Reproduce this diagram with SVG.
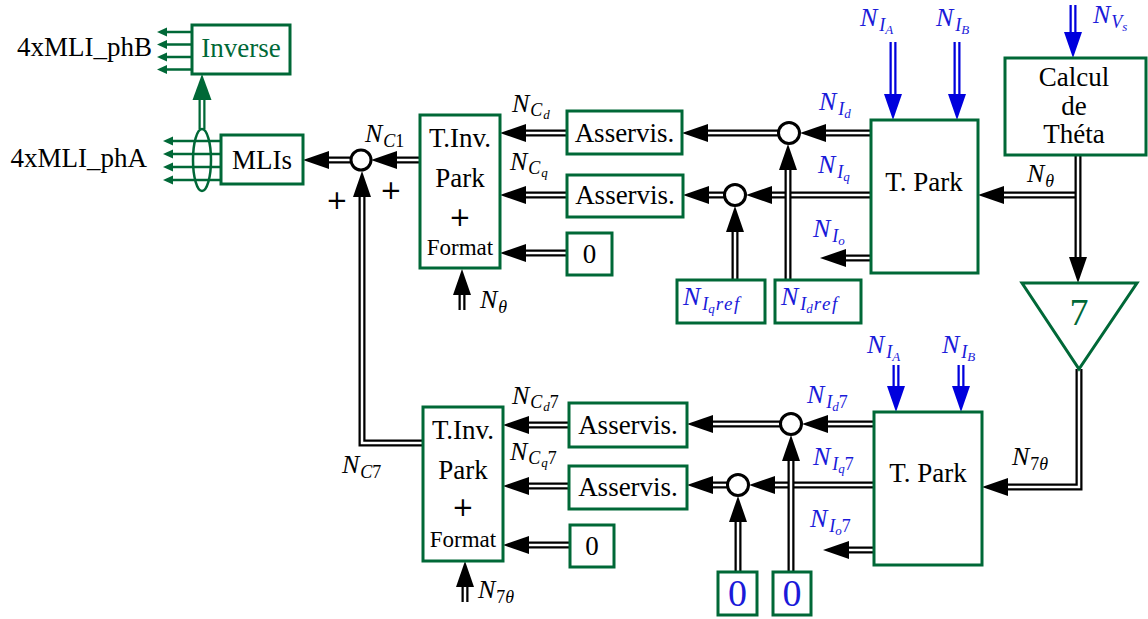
<svg xmlns="http://www.w3.org/2000/svg" width="1148" height="619" viewBox="0 0 1148 619">
<style>
.bx{fill:#fff;stroke:#006837;stroke-width:3}
.t{font-family:"Liberation Serif",serif;font-size:27px;text-anchor:middle;fill:#000}
.f{font-size:23px}
.pl{font-family:"DejaVu Sans",sans-serif;font-size:26px;text-anchor:middle;fill:#000}
.m{font-family:"Liberation Serif",serif;font-style:italic;font-size:26px;fill:#000}
.s1{font-size:18px}
.s2{font-size:13px}
.rf{font-size:19px;letter-spacing:1.5px}
.up{font-style:normal}
.bl{fill:#1a1ad9}
.gr{fill:#006837}
.o{fill:none;stroke:#000;stroke-width:7}
.i{fill:none;stroke:#fff;stroke-width:2.5}
.ob{fill:none;stroke:#0000dd;stroke-width:7}
.og{fill:none;stroke:#006837;stroke-width:7}
.sg{fill:none;stroke:#006837;stroke-width:2.5}
.sum{fill:#fff;stroke:#000;stroke-width:3}
</style>
<defs>
<marker id="ak" markerUnits="userSpaceOnUse" markerWidth="28" markerHeight="20" refX="0" refY="9" orient="auto" overflow="visible"><path d="M0,0 L26,9 L0,18 Z" fill="#000"/></marker>
<marker id="ab" markerUnits="userSpaceOnUse" markerWidth="28" markerHeight="20" refX="0" refY="9" orient="auto" overflow="visible"><path d="M0,0 L26,9 L0,18 Z" fill="#0000dd"/></marker>
<marker id="ag" markerUnits="userSpaceOnUse" markerWidth="28" markerHeight="20" refX="0" refY="9.5" orient="auto" overflow="visible"><path d="M0,0 L26,9.5 L0,19 Z" fill="#006837"/></marker>
<marker id="as" markerUnits="userSpaceOnUse" markerWidth="12" markerHeight="10" refX="0" refY="4.5" orient="auto" overflow="visible"><path d="M0,0 L10,4.5 L0,9 Z" fill="#006837"/></marker>
</defs>

<g id="connectors">
<!-- top section -->
<g><path class="o" d="M350,160 H329"/><path class="i" d="M350,160 H329" marker-end="url(#ak)"/></g>
<g><path class="o" d="M420,160 H397"/><path class="i" d="M420,160 H397" marker-end="url(#ak)"/></g>
<g><path class="o" d="M423,443 H362 V197"/><path class="i" d="M423,443 H362 V197" marker-end="url(#ak)"/></g>
<g><path class="o" d="M567,133 H526"/><path class="i" d="M567,133 H526" marker-end="url(#ak)"/></g>
<g><path class="o" d="M567,195 H526"/><path class="i" d="M567,195 H526" marker-end="url(#ak)"/></g>
<g><path class="o" d="M567,253 H526"/><path class="i" d="M567,253 H526" marker-end="url(#ak)"/></g>
<g><path class="o" d="M778,133 H708"/><path class="i" d="M778,133 H708" marker-end="url(#ak)"/></g>
<g><path class="o" d="M871,133 H826"/><path class="i" d="M871,133 H826" marker-end="url(#ak)"/></g>
<g><path class="o" d="M724,195 H709"/><path class="i" d="M724,195 H709" marker-end="url(#ak)"/></g>
<g><path class="o" d="M871,195 H772"/><path class="i" d="M871,195 H772" marker-end="url(#ak)"/></g>
<g><path class="o" d="M788,280 V170"/><path class="i" d="M788,280 V170" marker-end="url(#ak)"/></g>
<g><path class="o" d="M735,280 V232"/><path class="i" d="M735,280 V232" marker-end="url(#ak)"/></g>
<g><path class="o" d="M871,258 H846"/><path class="i" d="M871,258 H846" marker-end="url(#ak)"/></g>
<g><path class="ob" d="M893,42 V94"/><path class="i" d="M893,42 V94" marker-end="url(#ab)"/></g>
<g><path class="ob" d="M957,42 V94"/><path class="i" d="M957,42 V94" marker-end="url(#ab)"/></g>
<g><path class="ob" d="M1073,5 V32"/><path class="i" d="M1073,5 V32" marker-end="url(#ab)"/></g>
<g><path class="o" d="M1078,195 H1004"/><path class="i" d="M1078,195 H1004" marker-end="url(#ak)"/></g>
<g><path class="o" d="M1078,155 V257"/><path class="i" d="M1078,155 V257" marker-end="url(#ak)"/></g>
<g><path class="o" d="M462,310 V295"/><path class="i" d="M462,310 V295" marker-end="url(#ak)"/></g>
<!-- bottom section -->
<g><path class="o" d="M569,425 H529"/><path class="i" d="M569,425 H529" marker-end="url(#ak)"/></g>
<g><path class="o" d="M569,486 H529"/><path class="i" d="M569,486 H529" marker-end="url(#ak)"/></g>
<g><path class="o" d="M570,545 H529"/><path class="i" d="M570,545 H529" marker-end="url(#ak)"/></g>
<g><path class="o" d="M780,424 H713"/><path class="i" d="M780,424 H713" marker-end="url(#ak)"/></g>
<g><path class="o" d="M874,424 H828"/><path class="i" d="M874,424 H828" marker-end="url(#ak)"/></g>
<g><path class="o" d="M727,485 H713"/><path class="i" d="M727,485 H713" marker-end="url(#ak)"/></g>
<g><path class="o" d="M874,485 H775"/><path class="i" d="M874,485 H775" marker-end="url(#ak)"/></g>
<g><path class="o" d="M791,572 V461"/><path class="i" d="M791,572 V461" marker-end="url(#ak)"/></g>
<g><path class="o" d="M738,572 V522"/><path class="i" d="M738,572 V522" marker-end="url(#ak)"/></g>
<g><path class="o" d="M874,550 H849"/><path class="i" d="M874,550 H849" marker-end="url(#ak)"/></g>
<g><path class="ob" d="M896,365 V386"/><path class="i" d="M896,365 V386" marker-end="url(#ab)"/></g>
<g><path class="ob" d="M961,365 V386"/><path class="i" d="M961,365 V386" marker-end="url(#ab)"/></g>
<g><path class="o" d="M1079,369 V487 H1008"/><path class="i" d="M1079,369 V487 H1008" marker-end="url(#ak)"/></g>
<g><path class="o" d="M465,602 V587"/><path class="i" d="M465,602 V587" marker-end="url(#ak)"/></g>
<!-- green outputs -->
<g><path class="og" d="M202,129 V100"/><path class="i" d="M202,129 V100" marker-end="url(#ag)"/></g>
<path class="sg" d="M221,141 H173" marker-end="url(#as)"/>
<path class="sg" d="M221,154 H173" marker-end="url(#as)"/>
<path class="sg" d="M221,167 H173" marker-end="url(#as)"/>
<path class="sg" d="M221,180 H173" marker-end="url(#as)"/>
<path class="sg" d="M192,32 H167" marker-end="url(#as)"/>
<path class="sg" d="M192,44.5 H167" marker-end="url(#as)"/>
<path class="sg" d="M192,57 H167" marker-end="url(#as)"/>
<path class="sg" d="M192,69.5 H167" marker-end="url(#as)"/>
<ellipse cx="202" cy="160" rx="9" ry="31" fill="none" stroke="#006837" stroke-width="2.5"/>
</g>

<g id="inverse"><rect class="bx" x="192" y="25" width="98" height="49"/><text class="t gr" x="241" y="57">Inverse</text></g>
<g id="mlis"><rect class="bx" x="221" y="135" width="82" height="49"/><text class="t" x="262" y="169">MLIs</text></g>
<text class="t" x="152" y="56" style="text-anchor:end">4xMLI_phB</text>
<text class="t" x="147" y="167" style="text-anchor:end">4xMLI_phA</text>

<g id="sum-c1"><circle class="sum" cx="361" cy="160" r="10"/></g>
<text class="pl" x="337" y="209">+</text>
<text class="pl" x="391" y="199">+</text>

<g id="tinv-top"><rect class="bx" x="420" y="115" width="80" height="153"/>
<text class="t" x="460" y="147">T.Inv.</text><text class="t" x="460" y="187">Park</text><text class="pl" x="460" y="226">+</text><text class="t f" x="460" y="255">Format</text></g>
<g id="asserv-d"><rect class="bx" x="567" y="111" width="115" height="43"/><text class="t" x="624.5" y="142">Asservis.</text></g>
<g id="asserv-q"><rect class="bx" x="567" y="175" width="116" height="42"/><text class="t" x="625" y="204">Asservis.</text></g>
<g id="zero-top"><rect class="bx" x="567" y="233" width="45" height="42"/><text class="t" x="589.5" y="263">0</text></g>
<g id="sum-d"><circle class="sum" cx="789" cy="133" r="10.5"/></g>
<g id="sum-q"><circle class="sum" cx="735" cy="195" r="10.5"/></g>
<g id="tpark-top"><rect class="bx" x="871" y="120" width="107" height="153"/><text class="t" x="924" y="191">T. Park</text></g>
<g id="iqref"><rect class="bx" x="677" y="280" width="88" height="43"/>
<text class="m bl" x="683" y="305">N<tspan class="s1" dx="2" dy="5">I</tspan><tspan class="s2" dy="3">q</tspan><tspan class="rf" dx="1" dy="-3">ref</tspan></text></g>
<g id="idref"><rect class="bx" x="775" y="280" width="86" height="43"/>
<text class="m bl" x="781" y="305">N<tspan class="s1" dx="2" dy="5">I</tspan><tspan class="s2" dy="3">d</tspan><tspan class="rf" dx="1" dy="-3">ref</tspan></text></g>
<g id="calcul"><rect class="bx" x="1005" y="58" width="141" height="97"/>
<text class="t" x="1074" y="86">Calcul</text><text class="t" x="1074" y="115">de</text><text class="t" x="1074" y="143">Théta</text></g>
<g id="gain7"><path d="M1022,283 H1137 L1079,369 Z" fill="#fff" stroke="#006837" stroke-width="3"/><text class="t gr" x="1079" y="325" style="font-size:38px">7</text></g>

<g id="tinv-bot"><rect class="bx" x="423" y="407" width="80" height="154"/>
<text class="t" x="463" y="439">T.Inv.</text><text class="t" x="463" y="479">Park</text><text class="pl" x="463" y="516">+</text><text class="t f" x="463" y="547">Format</text></g>
<g id="asserv-d7"><rect class="bx" x="569" y="403" width="118" height="44"/><text class="t" x="628" y="434">Asservis.</text></g>
<g id="asserv-q7"><rect class="bx" x="569" y="466" width="118" height="43"/><text class="t" x="628" y="496">Asservis.</text></g>
<g id="zero-bot"><rect class="bx" x="570" y="525" width="44" height="42"/><text class="t" x="592" y="555">0</text></g>
<g id="sum-d7"><circle class="sum" cx="791" cy="424" r="10.5"/></g>
<g id="sum-q7"><circle class="sum" cx="738" cy="485" r="10.5"/></g>
<g id="tpark-bot"><rect class="bx" x="874" y="412" width="108" height="153"/><text class="t" x="928" y="482">T. Park</text></g>
<g id="zero-q7"><rect class="bx" x="718" y="572" width="39" height="43"/><text class="t bl" x="737.5" y="606" style="font-size:38px">0</text></g>
<g id="zero-d7"><rect class="bx" x="773" y="572" width="38" height="43"/><text class="t bl" x="792" y="606" style="font-size:38px">0</text></g>

<g id="labels">
<text class="m" x="365" y="142">N<tspan class="s1" dx="1" dy="5">C</tspan><tspan class="s1 up">1</tspan></text>
<text class="m" x="512" y="112">N<tspan class="s1" dx="1" dy="4">C</tspan><tspan class="s2" dx="1" dy="3">d</tspan></text>
<text class="m" x="510" y="170">N<tspan class="s1" dx="1" dy="4">C</tspan><tspan class="s2" dx="1" dy="3">q</tspan></text>
<text class="m" x="480" y="308">N<tspan class="s1" dx="1" dy="5">θ</tspan></text>
<text class="m bl" x="819" y="110">N<tspan class="s1" dx="2" dy="5">I</tspan><tspan class="s2" dy="3">d</tspan></text>
<text class="m bl" x="818" y="173">N<tspan class="s1" dx="2" dy="5">I</tspan><tspan class="s2" dy="3">q</tspan></text>
<text class="m bl" x="813" y="237">N<tspan class="s1" dx="2" dy="5">I</tspan><tspan class="s2" dy="3">o</tspan></text>
<text class="m bl" x="860" y="26">N<tspan class="s1" dx="2" dy="5">I</tspan><tspan class="s2" dy="3">A</tspan></text>
<text class="m bl" x="936" y="26">N<tspan class="s1" dx="2" dy="5">I</tspan><tspan class="s2" dy="3">B</tspan></text>
<text class="m bl" x="1093" y="23">N<tspan class="s1" dx="1" dy="5">V</tspan><tspan class="s2" dy="3">s</tspan></text>
<text class="m" x="1027" y="182">N<tspan class="s1" dx="1" dy="5">θ</tspan></text>
<text class="m bl" x="867" y="353">N<tspan class="s1" dx="2" dy="5">I</tspan><tspan class="s2" dy="3">A</tspan></text>
<text class="m bl" x="942" y="353">N<tspan class="s1" dx="2" dy="5">I</tspan><tspan class="s2" dy="3">B</tspan></text>
<text class="m bl" x="807" y="403">N<tspan class="s1" dx="2" dy="5">I</tspan><tspan class="s2" dy="3">d</tspan><tspan class="s1 up" dy="-3">7</tspan></text>
<text class="m bl" x="813" y="465">N<tspan class="s1" dx="2" dy="5">I</tspan><tspan class="s2" dy="3">q</tspan><tspan class="s1 up" dy="-3">7</tspan></text>
<text class="m bl" x="810" y="527">N<tspan class="s1" dx="2" dy="5">I</tspan><tspan class="s2" dy="3">o</tspan><tspan class="s1 up" dy="-3">7</tspan></text>
<text class="m" x="1012" y="465">N<tspan class="s1 up" dx="1" dy="5">7</tspan><tspan class="s1">θ</tspan></text>
<text class="m" x="512" y="404">N<tspan class="s1" dx="1" dy="4">C</tspan><tspan class="s2" dx="1" dy="3">d</tspan><tspan class="s1 up" dy="-3">7</tspan></text>
<text class="m" x="510" y="460">N<tspan class="s1" dx="1" dy="4">C</tspan><tspan class="s2" dx="1" dy="3">q</tspan><tspan class="s1 up" dy="-3">7</tspan></text>
<text class="m" x="342" y="473">N<tspan class="s1" dx="1" dy="5">C</tspan><tspan class="s1 up">7</tspan></text>
<text class="m" x="478" y="598">N<tspan class="s1 up" dx="1" dy="5">7</tspan><tspan class="s1">θ</tspan></text>
</g>
</svg>
